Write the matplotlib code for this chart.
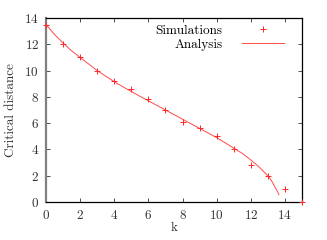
import matplotlib
matplotlib.use("Agg")
import matplotlib.pyplot as plt

plt.rcParams["font.family"] = ["cmr10", "DejaVu Serif"]
plt.rcParams["axes.formatter.use_mathtext"] = True

# simulated critical distance per k
sim_k = [0, 1, 2, 3, 4, 5, 6, 7, 8, 9, 10, 11, 12, 13, 14, 15]
sim_d = [13.45, 12.0, 11.0, 9.97, 9.2, 8.57, 7.8, 7.0, 6.06, 5.6, 5.0, 4.06, 2.8, 1.98, 0.96, 0.0]

# analytical curve
ana_k = [0, 0.5, 1, 1.5, 2, 3, 4, 5, 6, 7, 8, 9, 10, 11, 11.5, 12, 12.5, 13,
         13.2, 13.35, 13.5, 13.6, 13.65]
ana_d = [13.5, 12.75, 12.1, 11.5, 11.0, 10.0, 9.15, 8.4, 7.7, 7.0, 6.3, 5.6,
         4.9, 4.1, 3.7, 3.2, 2.65, 2.0, 1.65, 1.3, 0.95, 0.7, 0.55]

FS = 9.5

fig = plt.figure(figsize=(3.27, 2.40), dpi=100)
ax = fig.add_axes([0.1407, 0.1583, 0.7828, 0.7667])

ax.plot(sim_k, sim_d, "+", color="#ff2828", ms=4.5, mew=0.7,
        label="Simulations", clip_on=False, zorder=3)
ax.plot(ana_k, ana_d, "-", color="#ff4a4a", lw=0.7, label="Analysis")

ax.set_xlim(0, 15)
ax.set_ylim(0, 14)
ax.set_xticks(range(0, 15, 2))
ax.set_yticks(range(0, 15, 2))
ax.tick_params(direction="in", length=3, width=0.6, labelsize=FS,
               top=True, right=True, pad=5, colors="#333333")
for s in ["top", "right", "bottom"]:
    ax.spines[s].set_linewidth(0.9)
    ax.spines[s].set_color("black")
ax.spines["left"].set_linewidth(1.6)
ax.spines["left"].set_color("#808080")

ax.set_xlabel("k", fontsize=FS, labelpad=0, color="#333333")
ax.set_ylabel("Critical distance", fontsize=FS, labelpad=5, color="#333333")

ax.legend(loc="upper right", frameon=False, markerfirst=False, fontsize=FS,
          handlelength=3.15, handletextpad=1.5, labelspacing=0.15,
          borderaxespad=0.1, bbox_to_anchor=(0.955, 1.0))

fig.savefig("out.png", dpi=100)
